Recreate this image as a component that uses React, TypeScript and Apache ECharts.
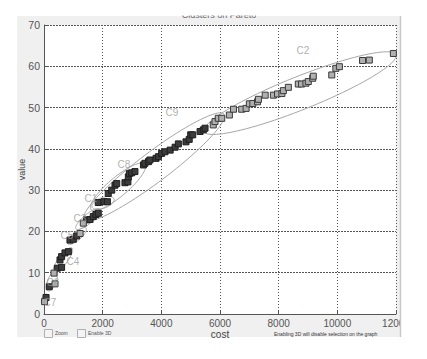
import React, { useEffect, useRef } from "react";
import * as echarts from "echarts";

// ---- data ----
const xTicks = [0, 2000, 4000, 6000, 8000, 10000, 12000];
const yTicks = [0, 10, 20, 30, 40, 50, 60, 70];

const darkCost = [70, 180, 455, 600, 545, 600, 715, 830, 885, 1000, 1115, 1455, 1570, 1680, 1770, 1850, 1850, 2045, 2160, 2190, 2310, 2420, 2480, 2760, 2860, 2875, 2910, 2990, 3100, 3390, 3440, 3560, 3610, 3820, 3900, 4010, 4125, 4300, 4470, 4580, 4840, 4950, 5000, 5070, 5320, 5430, 5490];
const darkValue = [4.0, 6.6, 11.1, 11.3, 13.1, 13.9, 14.8, 15.1, 17.9, 18.1, 18.9, 22.8, 22.9, 23.6, 24.1, 24.4, 27.0, 27.2, 27.2, 29.2, 30.0, 31.2, 31.6, 31.8, 32.0, 33.2, 34.0, 34.2, 34.5, 36.1, 36.5, 36.9, 37.3, 37.7, 38.1, 38.9, 39.3, 39.7, 40.4, 41.2, 41.7, 42.3, 43.4, 43.4, 44.2, 44.6, 45.0];

const lightCost = [20, 375, 340, 1230, 1340, 5770, 5830, 5940, 6060, 6320, 6460, 6740, 6890, 7000, 7120, 7280, 7310, 7540, 7820, 7960, 8110, 8160, 8330, 8670, 8780, 8930, 9010, 9160, 9180, 9810, 9950, 10070, 10860, 11090, 11910];
const lightValue = [3.0, 7.3, 9.9, 19.5, 22.0, 45.8, 46.6, 47.4, 47.4, 48.2, 49.6, 49.6, 49.8, 50.9, 51.0, 51.4, 52.0, 53.0, 53.0, 53.3, 53.4, 54.1, 54.9, 55.7, 55.7, 55.9, 56.3, 57.1, 57.6, 57.9, 59.5, 59.9, 61.4, 61.5, 63.1];

// cluster ellipses: centre, end of the long axis, short/long ratio
const clusterNames = ["C7", "C6", "C4", "C5", "C3", "C1", "C8", "C9", "C2"];
const centerCost = [34, 273, 648, 1125, 1500, 2011, 2523, 3750, 8727];
const centerValue = [3.6, 8.0, 13.1, 18.9, 23.0, 26.9, 30.8, 35.6, 53.5];
const tipCost = [102, 409, 955, 1432, 1909, 2386, 3443, 6136, 12000];
const tipValue = [4.8, 10.4, 16.0, 20.8, 25.4, 27.9, 36.3, 48.4, 62.8];
const axisRatio = [0.6, 0.4, 0.3, 0.35, 0.3, 0.45, 0.27, 0.17, 0.16];

// cluster label positions
const labelCost = [205, 307, 989, 784, 1227, 1602, 2727, 4364, 8829];
const labelValue = [2.7, 7.7, 12.6, 19.1, 23.2, 27.9, 36.1, 48.9, 63.9];

const FONT = "'Liberation Sans', Arial, sans-serif";
const NARROW = "'Liberation Sans Narrow', 'Liberation Sans', Arial, sans-serif";

export default function App() {
  const ref = useRef<HTMLDivElement>(null);
  useEffect(() => {
    const chart = echarts.init(ref.current!, null, { renderer: "svg" });
    const darkData = darkCost.map((c, i) => [c, darkValue[i]]);
    const lightData = lightCost.map((c, i) => [c, lightValue[i]]);
    const ellipseData = clusterNames.map((n, i) => ({
      name: n,
      value: [centerCost[i], centerValue[i], tipCost[i], tipValue[i], axisRatio[i]],
    }));
    const labelData = clusterNames.map((n, i) => ({ name: n, value: [labelCost[i], labelValue[i]] }));

    const option: any = {
      animation: false,
      backgroundColor: "#ffffff",
      textStyle: { fontFamily: FONT },
      grid: { left: 44, right: 31, top: 25, bottom: 45, show: false },
      xAxis: {
        type: "value",
        min: xTicks[0],
        max: xTicks[xTicks.length - 1],
        interval: xTicks[1] - xTicks[0],
        name: "cost",
        nameLocation: "middle",
        nameGap: 15,
        nameMoveOverlap: false,
        nameTextStyle: { color: "#444", fontSize: 10, fontFamily: FONT, lineHeight: 10 },
        axisLine: { show: true, onZero: false, lineStyle: { color: "#555", width: 1 } },
        axisTick: { show: true, inside: true, length: 3, lineStyle: { color: "#555" } },
        axisLabel: { color: "#555", fontSize: 10, lineHeight: 10, margin: 4, fontFamily: NARROW, formatter: (v: number) => String(v) },
        splitLine: { show: true, lineStyle: { color: "#555", width: 1, type: [1, 2] } },
      },
      yAxis: {
        type: "value",
        min: yTicks[0],
        max: yTicks[yTicks.length - 1],
        interval: yTicks[1] - yTicks[0],
        name: "value",
        nameLocation: "middle",
        nameGap: 18,
        nameMoveOverlap: false,
        nameRotate: 90,
        nameTextStyle: { color: "#444", fontSize: 9, fontFamily: FONT },
        axisLine: { show: true, onZero: false, lineStyle: { color: "#555", width: 1 } },
        axisTick: { show: true, inside: true, length: 3, lineStyle: { color: "#555" } },
        axisLabel: { color: "#555", fontSize: 10.5, margin: 4, fontFamily: NARROW, formatter: (v: number) => String(v) },
        splitLine: { show: true, lineStyle: { color: "#555", width: 1, type: [2, 1] } },
      },
      graphic: [
        { type: "rect", z: -100, shape: { x: 17, y: 16, width: 384, height: 321 }, style: { fill: "#f0f0f0" } },
        { type: "rect", z: -99, shape: { x: 44, y: 25, width: 352, height: 289 }, style: { fill: "#ffffff" } },
        { type: "text", z: 50, x: 219, y: 15, style: { text: "Clusters on Pareto", fill: "#666", font: `9px ${FONT}`, textAlign: "center", textVerticalAlign: "middle" } },
        { type: "rect", z: 60, shape: { x: 0, y: 0, width: 427, height: 15.5 }, style: { fill: "#ffffff" } },
        { type: "rect", z: 60, shape: { x: 401, y: 0, width: 26, height: 359 }, style: { fill: "#ffffff" } },
        { type: "line", z: 61, shape: { x1: 400.5, y1: 16, x2: 400.5, y2: 337 }, style: { stroke: "#c8c8c8", lineWidth: 1.5 } },
        { type: "rect", z: 50, shape: { x: 44.5, y: 329.5, width: 8, height: 8 }, style: { fill: "#f4f4f4", stroke: "#b0b0b0", lineWidth: 1 } },
        { type: "text", z: 50, x: 55, y: 333, style: { text: "Zoom", fill: "#555", font: `5px ${FONT}`, textVerticalAlign: "middle" } },
        { type: "rect", z: 50, shape: { x: 77.5, y: 329.5, width: 8, height: 8 }, style: { fill: "#f4f4f4", stroke: "#b0b0b0", lineWidth: 1 } },
        { type: "text", z: 50, x: 88, y: 333, style: { text: "Enable 3D", fill: "#555", font: `5px ${FONT}`, textVerticalAlign: "middle" } },
        { type: "text", z: 50, x: 274, y: 334, style: { text: "Enabling 3D will disable selection on the graph", fill: "#333", font: `5px ${FONT}`, textVerticalAlign: "middle" } },
        { type: "rect", z: 60, shape: { x: 0, y: 339, width: 427, height: 20 }, style: { fill: "#ffffff" } },
      ],
      series: [
        {
          type: "custom",
          name: "ellipses",
          silent: true,
          clip: false,
          encode: { x: [0, 2], y: [1, 3] },
          data: ellipseData,
          z: 3,
          renderItem: (params: any, api: any) => {
            const c = api.coord([api.value(0), api.value(1)]);
            const t = api.coord([api.value(2), api.value(3)]);
            const r = api.value(4);
            const ux = t[0] - c[0];
            const uy = t[1] - c[1];
            const vx = -uy * r;
            const vy = ux * r;
            const pts: number[][] = [];
            for (let k = 0; k < 96; k++) {
              const a = (k / 96) * Math.PI * 2;
              pts.push([c[0] + ux * Math.cos(a) + vx * Math.sin(a), c[1] + uy * Math.cos(a) + vy * Math.sin(a)]);
            }
            return {
              type: "polygon",
              shape: { points: pts },
              style: { fill: "none", stroke: "#a6a6a6", lineWidth: 1 },
            };
          },
        },
        {
          type: "scatter",
          name: "dark",
          symbol: "rect",
          symbolSize: 6,
          data: darkData,
          z: 4,
          itemStyle: { color: "#3c3c3c", borderColor: "#1e1e1e", borderWidth: 1, opacity: 1 },
        },
        {
          type: "scatter",
          name: "light",
          symbol: "rect",
          symbolSize: 6,
          data: lightData,
          z: 4,
          itemStyle: { color: "#b0b0b0", borderColor: "#3a3a3a", borderWidth: 1, opacity: 1 },
        },
        {
          type: "scatter",
          name: "labels",
          symbolSize: 1,
          silent: true,
          data: labelData,
          z: 5,
          itemStyle: { color: "rgba(0,0,0,0)" },
          label: {
            show: true,
            position: "inside",
            formatter: "{b}",
            color: "#9a9a9a",
            fontSize: 10,
            fontFamily: FONT,
          },
        },
      ],
    };
    chart.setOption(option);
    return () => chart.dispose();
  }, []);
  return (
    <div
      ref={ref}
      style={{ position: "fixed", left: 0, top: 0, width: 427, height: 359, background: "#fff" }}
    />
  );
}
